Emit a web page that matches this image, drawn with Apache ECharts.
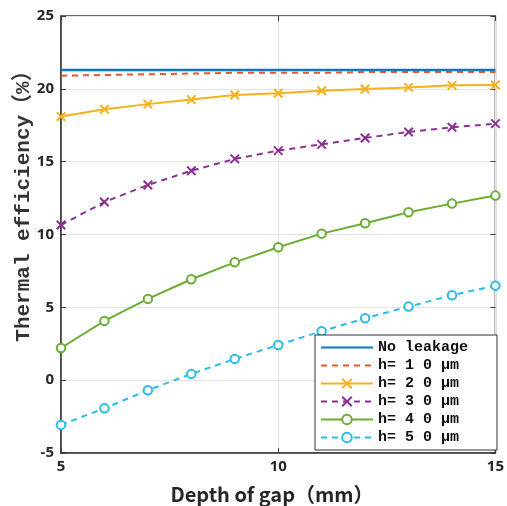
<!DOCTYPE html>
<html><head><meta charset="utf-8">
<script src="https://cdn.jsdelivr.net/npm/echarts@6/dist/echarts.min.js"></script>
<style>html,body{margin:0;padding:0;background:#fff}#c{width:507px;height:506px}</style>
</head><body><div id="c"></div>
<script>
const depth = [5,6,7,8,9,10,11,12,13,14,15];
const seriesNames = ['No leakage','h= 1 0 μm','h= 2 0 μm','h= 3 0 μm','h= 4 0 μm','h= 5 0 μm'];
const noLeakage = [21.3,21.3,21.3,21.3,21.3,21.3,21.3,21.3,21.3,21.3,21.3];
const h10 = [20.9,20.95,21.0,21.05,21.1,21.1,21.1,21.15,21.15,21.15,21.15];
const h20 = [18.1,18.6,18.95,19.26,19.58,19.7,19.87,19.99,20.1,20.24,20.26];
const h30 = [10.65,12.23,13.4,14.38,15.19,15.76,16.19,16.63,17.04,17.36,17.61];
const h40 = [2.21,4.07,5.58,6.93,8.09,9.12,10.06,10.77,11.53,12.12,12.67];
const h50 = [-3.07,-1.93,-0.69,0.43,1.46,2.42,3.36,4.25,5.05,5.83,6.49];
const colors = ['#0a78c4','#e8562a','#f5b11c','#8a3093','#6aad33','#28bde9'];

const cross = 'path://M0,0L10,10M10,0L0,10';
const blank = 'path://M0,0L10,0L10,10L0,10Z';
function pts(arr){ return depth.map((d,i)=>[d,arr[i]]); }
function mk(name, data, color, dash, symbol, width){
  let itemStyle;
  if (!symbol) itemStyle = {color:'rgba(255,255,255,0)', borderColor:'rgba(255,255,255,0)', borderWidth:0, opacity:0};
  else if (symbol === cross) itemStyle = {color:color, borderColor:color, borderWidth:2};
  else itemStyle = {color:'#fff', borderColor:color, borderWidth:2};
  return {
    name, type:'line', data:pts(data), color,
    lineStyle:{color, width, type: dash ? [6,5] : 'solid'},
    symbol: symbol || blank,
    symbolSize: 8.5,
    showSymbol: !!symbol,
    itemStyle,
    emphasis:{disabled:true},
    animation:false, z: 3
  };
}
const chart = echarts.init(document.getElementById('c'));
const axisColor = '#3a3a3a';
chart.setOption({
  animation:false,
  grid:{left:61, right:11, top:16, bottom:53, show:true, borderColor:axisColor, borderWidth:1.5, backgroundColor:'#fff'},
  xAxis:[{
    type:'value', min:5, max:15, interval:5,
    axisLine:{show:true, onZero:false, lineStyle:{color:axisColor, width:1.5}},
    axisTick:{show:true, inside:true, length:5, lineStyle:{color:axisColor}},
    axisLabel:{color:'#262626', fontSize:15, fontWeight:'bold', fontFamily:'Noto Sans', margin:6},
    splitLine:{show:true, lineStyle:{color:'#e3e3e3', width:1}}
  },{
    type:'value', min:5, max:15, interval:5, position:'top',
    axisLine:{show:false, onZero:false}, axisTick:{show:true, inside:true, length:5, lineStyle:{color:axisColor}},
    axisLabel:{show:false}, splitLine:{show:false}
  }],
  yAxis:[{
    type:'value', min:-5, max:25, interval:5,
    axisLine:{show:true, onZero:false, lineStyle:{color:axisColor, width:1.5}},
    axisTick:{show:true, inside:true, length:5, lineStyle:{color:axisColor}},
    axisLabel:{color:'#262626', fontSize:15, fontWeight:'bold', fontFamily:'Noto Sans', margin:7},
    splitLine:{show:true, lineStyle:{color:'#e3e3e3', width:1}}
  },{
    type:'value', min:-5, max:25, interval:5, position:'right',
    axisLine:{show:false, onZero:false}, axisTick:{show:true, inside:true, length:5, lineStyle:{color:axisColor}},
    axisLabel:{show:false}, splitLine:{show:false}
  }],
  legend:{
    orient:'vertical', right:10, bottom:56,
    data:seriesNames,
    itemWidth:52, itemHeight:12, itemGap:3,
    padding:[5,29,5,5],
    backgroundColor:'#fff', borderColor:'#333', borderWidth:1,
    textStyle:{fontFamily:'Liberation Mono', fontWeight:'bold', fontSize:15, color:'#111'},
    selectedMode:false
  },
  graphic:[
    {type:'text', x:24, y:201, rotation:Math.PI/2, style:{text:'Thermal efficiency（%）', font:'bold 21px "Liberation Mono", "Noto Sans CJK SC"', fill:'#333', textAlign:'center', textVerticalAlign:'middle'}},
    {type:'text', x:272, y:494, style:{text:'Depth of gap（mm）', font:'bold 20px "Noto Sans CJK SC", "Noto Sans"', fill:'#262626', textAlign:'center', textVerticalAlign:'middle'}}
  ],
  series:[
    mk(seriesNames[0], noLeakage, colors[0], false, null, 2.5),
    mk(seriesNames[1], h10, colors[1], true, null, 2),
    mk(seriesNames[2], h20, colors[2], false, cross, 2),
    mk(seriesNames[3], h30, colors[3], true, cross, 2),
    mk(seriesNames[4], h40, colors[4], false, 'circle', 2),
    mk(seriesNames[5], h50, colors[5], true, 'circle', 2)
  ]
});
</script></body></html>
